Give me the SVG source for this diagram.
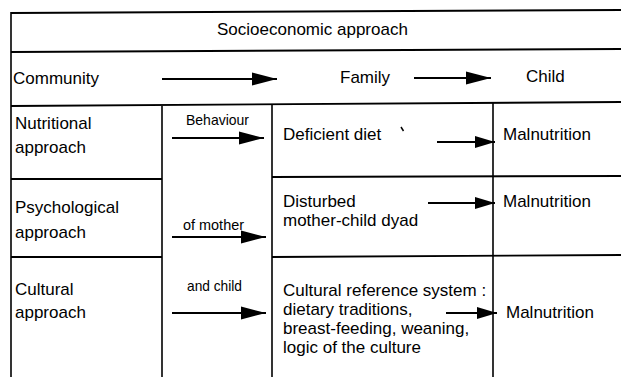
<svg xmlns="http://www.w3.org/2000/svg" width="621" height="377" viewBox="0 0 621 377">
<style>
text{font-family:"Liberation Sans",Arial,sans-serif;font-size:17px;fill:#000}
.sm{font-size:14.5px}
.rule{stroke:#000;stroke-width:1.9;fill:none}
.vr{stroke:#000;stroke-width:1.6;fill:none}
.arr{stroke:#000;stroke-width:1.8;fill:none}
</style>
<defs>
<marker id="big" markerUnits="userSpaceOnUse" markerWidth="25" markerHeight="14" refX="25" refY="7" orient="auto">
<path d="M0,0.5 L25,7 L0,13.5 Z" fill="#000"/>
</marker>
<marker id="small" markerUnits="userSpaceOnUse" markerWidth="20" markerHeight="13" refX="20" refY="6.5" orient="auto">
<path d="M0,0.5 L20,6.5 L0,12.5 Z" fill="#000"/>
</marker>
</defs>
<rect width="621" height="377" fill="#fff"/>
<g id="grid">
<line class="rule" x1="11" y1="13" x2="621" y2="10"/>
<line class="rule" x1="11" y1="52" x2="621" y2="49"/>
<line class="rule" x1="11" y1="106" x2="621" y2="102"/>
<line class="rule" x1="11" y1="179" x2="162" y2="179"/>
<line class="rule" x1="272" y1="177" x2="621" y2="176"/>
<line class="rule" x1="11" y1="257" x2="162" y2="257"/>
<line class="rule" x1="272" y1="257" x2="621" y2="255"/>
<line class="vr" x1="11" y1="12" x2="11" y2="377"/>
<line class="vr" x1="162" y1="106" x2="162" y2="377"/>
<line class="vr" x1="272" y1="104" x2="272" y2="377"/>
<line class="vr" x1="493" y1="103" x2="493" y2="377"/>
<line x1="401" y1="127" x2="403.5" y2="131" stroke="#000" stroke-width="1.5"/>
</g>
<g id="header"><text x="217" y="35">Socioeconomic approach</text></g>
<g id="community"><text x="13" y="84">Community</text></g>
<g id="family"><text x="340" y="83">Family</text></g>
<g id="child"><text x="526" y="82">Child</text></g>
<g id="nutritional"><text x="15" y="129">Nutritional</text><text x="15" y="153">approach</text></g>
<g id="psychological"><text x="15" y="213">Psychological</text><text x="15" y="238">approach</text></g>
<g id="cultural"><text x="15" y="295">Cultural</text><text x="15" y="318">approach</text></g>
<g id="behaviour">
<text class="sm" x="186" y="125" textLength="63" lengthAdjust="spacingAndGlyphs">Behaviour</text>
<text class="sm" x="183" y="230" textLength="61" lengthAdjust="spacingAndGlyphs">of mother</text>
<text class="sm" x="187" y="291" textLength="55" lengthAdjust="spacingAndGlyphs">and child</text>
</g>
<g id="deficient-diet"><text x="283" y="140">Deficient diet</text></g>
<g id="dyad"><text x="283" y="207">Disturbed</text><text x="283" y="226">mother-child dyad</text></g>
<g id="cultural-system">
<text x="283" y="296">Cultural reference system :</text>
<text x="283" y="315">dietary traditions,</text>
<text x="283" y="334">breast-feeding, weaning,</text>
<text x="283" y="353">logic of the culture</text>
</g>
<g id="malnutrition-1"><text x="503" y="140">Malnutrition</text></g>
<g id="malnutrition-2"><text x="503" y="207">Malnutrition</text></g>
<g id="malnutrition-3"><text x="506" y="318">Malnutrition</text></g>
<g id="connectors">
<line class="arr" x1="162" y1="79" x2="277" y2="79" marker-end="url(#big)"/>
<line class="arr" x1="414" y1="78" x2="491" y2="78" marker-end="url(#big)"/>
<line class="arr" x1="172" y1="138" x2="264" y2="138" marker-end="url(#big)"/>
<line class="arr" x1="172" y1="237" x2="266" y2="237" marker-end="url(#big)"/>
<line class="arr" x1="172" y1="313" x2="266" y2="313" marker-end="url(#big)"/>
<line class="arr" x1="437" y1="142" x2="495" y2="142" marker-end="url(#small)"/>
<line class="arr" x1="428" y1="203" x2="495" y2="203" marker-end="url(#small)"/>
<line class="arr" x1="446" y1="313" x2="497" y2="313" marker-end="url(#small)"/>
</g>
</svg>
